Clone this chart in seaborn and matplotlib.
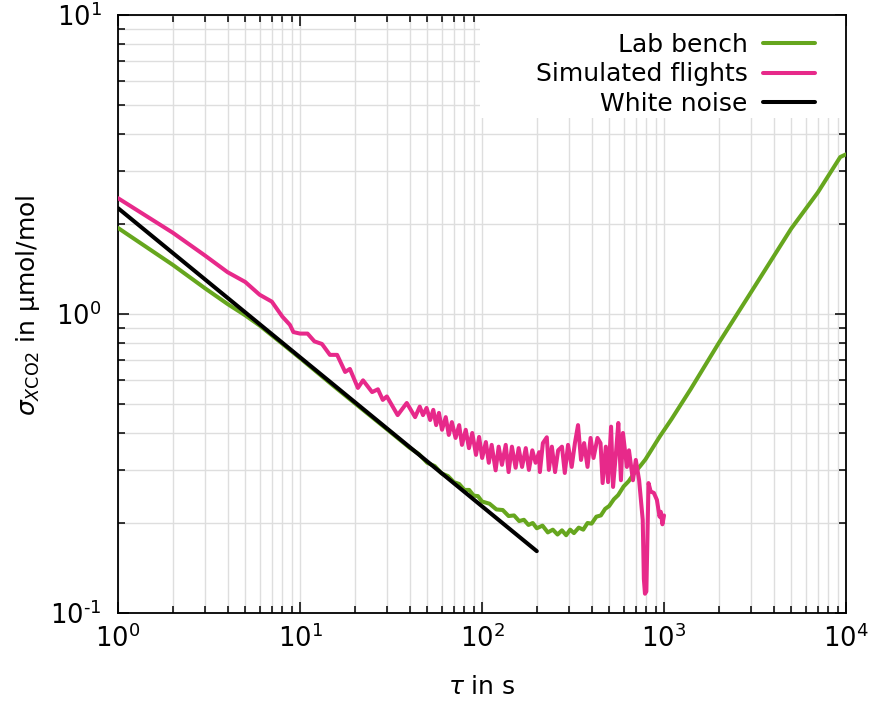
import matplotlib
matplotlib.use("Agg")
import matplotlib.pyplot as plt
import matplotlib.ticker as mticker
from matplotlib.patches import Rectangle
import seaborn as sns
import pandas as pd

# ---- data ----
lab_tau = [1, 2, 3, 4, 5, 6, 8, 10, 15, 20, 30, 40, 45, 50, 55, 60, 65, 70, 75, 80,
           85, 90, 95, 100, 110, 120, 130, 140, 150, 160, 170, 180, 190, 200, 215,
           230, 245, 260, 275, 290, 305, 320, 340, 360, 380, 400, 425, 450, 475,
           500, 530, 560, 600, 640, 690, 740, 790, 850, 950, 1100, 1400, 2000,
           3000, 5000, 7000, 9300, 10000]
lab_sigma = [1.94, 1.46, 1.22, 1.08, 0.99, 0.915, 0.795, 0.712, 0.58, 0.503, 0.412,
             0.357, 0.34, 0.318, 0.31, 0.293, 0.287, 0.274, 0.27, 0.258, 0.258,
             0.247, 0.246, 0.236, 0.232, 0.222, 0.221, 0.211, 0.212, 0.203, 0.205,
             0.197, 0.2, 0.192, 0.196, 0.186, 0.19, 0.183, 0.189, 0.182, 0.19,
             0.185, 0.193, 0.19, 0.2, 0.199, 0.21, 0.212, 0.223, 0.228, 0.24,
             0.248, 0.265, 0.276, 0.295, 0.31, 0.326, 0.35, 0.39, 0.445, 0.56,
             0.80, 1.18, 1.93, 2.55, 3.35, 3.42]

sim_tau = [1, 2, 3, 4, 5, 6, 7, 8, 8.8, 9.2, 10, 11, 12, 13.2, 14.6, 16, 17.7, 18.8,
           20.8, 22.2, 24.9, 26.8, 28.5, 30, 34.4, 38.6, 42.9, 45.5, 47.4, 49.6,
           51.9, 54, 56, 58, 60.3, 63.2, 65.7, 68.3, 71.6, 74.9, 77.6, 81.4, 84.8,
           88.4, 92.7, 96.4, 100.2, 105, 109, 113, 118.8, 123.5, 128.7, 135, 140,
           146, 153, 159, 166, 174, 181, 189, 197, 206, 208, 216, 227, 233, 242,
           252, 262, 275, 285, 297, 311, 324, 337, 350, 364, 380, 395, 410, 431,
           448, 460, 479, 493, 512, 525, 546, 561, 580, 595, 625, 642, 675, 700,
           730, 764, 775, 786, 800, 822, 845, 880, 914, 945, 960, 980, 1000]
sim_sigma = [2.44, 1.87, 1.57, 1.38, 1.28, 1.16, 1.10, 0.98, 0.92, 0.87, 0.86, 0.86,
             0.81, 0.794, 0.73, 0.73, 0.64, 0.655, 0.566, 0.60, 0.548, 0.56, 0.516,
             0.53, 0.459, 0.504, 0.452, 0.49, 0.459, 0.485, 0.442, 0.478, 0.425,
             0.467, 0.41, 0.452, 0.394, 0.435, 0.385, 0.425, 0.365, 0.41, 0.356,
             0.40, 0.338, 0.388, 0.33, 0.373, 0.318, 0.365, 0.30, 0.36, 0.313,
             0.365, 0.296, 0.36, 0.306, 0.356, 0.308, 0.356, 0.301, 0.35, 0.318,
             0.345, 0.296, 0.37, 0.387, 0.301, 0.36, 0.296, 0.35, 0.36, 0.294,
             0.365, 0.308, 0.37, 0.425, 0.325, 0.37, 0.308, 0.385, 0.33, 0.385,
             0.37, 0.272, 0.36, 0.274, 0.42, 0.264, 0.35, 0.432, 0.278, 0.40,
             0.308, 0.35, 0.278, 0.325, 0.278, 0.205, 0.13, 0.116, 0.118, 0.272,
             0.255, 0.252, 0.239, 0.21, 0.218, 0.198, 0.212]

wn_tau = [1, 200]
wn_sigma = [2.26, 0.161]

labels = ["Lab bench", "Simulated flights", "White noise"]
colors = ["#66a61e", "#e7298a", "#000000"]
x_ticks = [1, 10, 100, 1000, 10000]
x_ticklabels = [r"$10^{0}$", r"$10^{1}$", r"$10^{2}$", r"$10^{3}$", r"$10^{4}$"]
y_ticks = [0.1, 1, 10]
y_ticklabels = [r"$10^{\text{-}1}$", r"$10^{0}$", r"$10^{1}$"]

sns.set_theme(style="ticks")
plt.rcParams["font.family"] = ["DejaVu Sans"]
plt.rcParams["mathtext.fontset"] = "dejavusans"
plt.rcParams["text.color"] = "black"
plt.rcParams["axes.labelcolor"] = "black"
plt.rcParams["xtick.color"] = "black"
plt.rcParams["ytick.color"] = "black"

fig = plt.figure(figsize=(8.7, 7.07), dpi=100)
AX_W, AX_H = 846 - 118, 613 - 15
ax = fig.add_axes([118 / 870, 1 - 613 / 707, AX_W / 870, AX_H / 707])

series = [(lab_tau, lab_sigma), (sim_tau, sim_sigma), (wn_tau, wn_sigma)]
for (t, s), lab, c in zip(series, labels, colors):
    df = pd.DataFrame({"tau": t, "sigma": s})
    sns.lineplot(data=df, x="tau", y="sigma", ax=ax, color=c, lw=2.9,
                 label=lab, sort=False, estimator=None, zorder=3)

ax.set_xscale("log")
ax.set_yscale("log")
ax.set_xlim(1, 10000)
ax.set_ylim(0.1, 10)

ax.xaxis.set_major_locator(mticker.FixedLocator(x_ticks))
ax.xaxis.set_major_formatter(mticker.FixedFormatter(x_ticklabels))
ax.yaxis.set_major_locator(mticker.FixedLocator(y_ticks))
ax.yaxis.set_major_formatter(mticker.FixedFormatter(y_ticklabels))
ax.xaxis.set_minor_locator(mticker.LogLocator(base=10, subs=range(2, 10), numticks=20))
ax.yaxis.set_minor_locator(mticker.LogLocator(base=10, subs=range(2, 10), numticks=20))
ax.xaxis.set_minor_formatter(mticker.NullFormatter())
ax.yaxis.set_minor_formatter(mticker.NullFormatter())

ax.grid(True, which="both", color="#dedede", lw=1.0, zorder=0)
ax.set_axisbelow(True)

# white key box (covers the grid behind the legend)
ax.add_patch(Rectangle(((480 - 118) / AX_W, 1 - (118 - 15) / AX_H),
                       (846 - 480) / AX_W, (118 - 15) / AX_H,
                       transform=ax.transAxes, facecolor="white",
                       edgecolor="none", zorder=1.5))

ax.tick_params(which="both", direction="in", top=True, right=True, width=1.1,
               color="black")
ax.tick_params(which="major", length=8, labelsize=18.5)
ax.tick_params(axis="x", which="major", pad=8)
ax.tick_params(axis="y", which="major", pad=12)
ax.tick_params(which="minor", length=5)
for sp in ax.spines.values():
    sp.set_color("black")
    sp.set_linewidth(1.3)

ax.set_xlabel(r"$\tau$ in s", fontsize=18, labelpad=16)
ax.set_ylabel(r"$\sigma_{X\mathrm{CO2}}$ in µmol/mol", fontsize=18)
ax.yaxis.set_label_coords((42 - 118) / AX_W, (613 - 305) / AX_H)

leg = ax.legend(loc="upper right", markerfirst=False, frameon=False,
                fontsize=18, handlelength=2.1, handletextpad=0.6,
                labelspacing=0.22, borderpad=0.55, borderaxespad=0.0,
                bbox_to_anchor=(1 - 17 / AX_W, 1 - 4 / AX_H))
leg.set_zorder(5)

fig.savefig("out.png", dpi=100, facecolor="white")
